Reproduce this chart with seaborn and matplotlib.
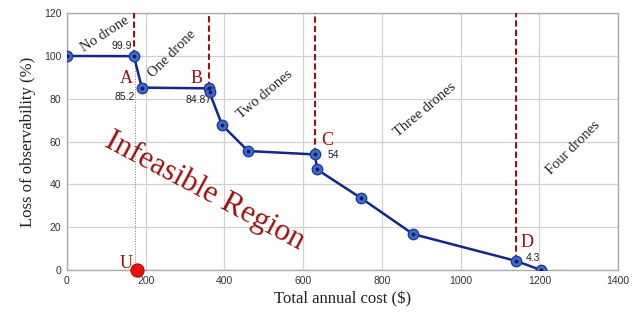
import numpy as np
import pandas as pd
import matplotlib
matplotlib.use("Agg")
import matplotlib.pyplot as plt
import seaborn as sns

# Data
cost = [0, 170, 190, 360, 362, 394, 460, 630, 635, 747, 879, 1140, 1204]
loss = [100, 99.9, 85.2, 84.87, 83.0, 67.7, 55.6, 54, 47, 33.6, 16.8, 4.3, 0]
boundaries = [170, 360, 630, 1140]
boundary_loss = [99.9, 84.87, 54, 4.3]
point_labels = ["A", "B", "C", "D"]
value_labels = ["99.9", "85.2", "84.87", "54", "4.3"]
value_x = [170, 190, 360, 630, 1140]
value_y = [99.9, 85.2, 84.87, 54, 4.3]
region_names = ["No drone", "One drone", "Two drones", "Three drones", "Four drones"]
u_cost = [178]
u_loss = [0]

sns.set_style("whitegrid")
plt.rcParams['font.family'] = ['Liberation Sans', 'DejaVu Sans']

fig = plt.figure(figsize=(6.44, 3.2), dpi=100)
ax = fig.add_axes([0.104, 0.156, 0.856, 0.803])

df = pd.DataFrame({"cost": cost, "loss": loss})
sns.lineplot(data=df, x="cost", y="loss", sort=False, ax=ax, color="#14268a",
             linewidth=1.8, marker="o", markersize=7.5,
             markerfacecolor="#3d6ccc", markeredgecolor="#1f3c9a", markeredgewidth=1.0, zorder=4)
ax.scatter(cost, loss, s=3, color="#0a1a60", zorder=5)

darkred = "#9b1010"
for bx, by in zip(boundaries, boundary_loss):
    ax.plot([bx, bx], [by, 120], linestyle=(0, (3, 1.5)), color=darkred, linewidth=1.5, zorder=3)

# dotted line from U to A
ax.plot([173, 173], [0, 99.9], linestyle=":", color="#777777", linewidth=0.7, zorder=2)

sns.scatterplot(x=u_cost, y=u_loss, ax=ax, color="#e8120c", s=90, edgecolor="#c00000", zorder=6, clip_on=False)

serif = ['Liberation Serif', 'DejaVu Serif']
# point letters
letter_pos = [(150, 89.5), (330, 89.5), (660, 60.5), (1168, 13)]
for (lx, ly), t in zip(letter_pos, point_labels):
    ax.text(lx, ly, t, color=darkred, family=serif, fontsize=13, ha="center", va="center")
ax.text(150, 3, "U", color=darkred, family=serif, fontsize=13, ha="center", va="center")

# value labels
val_off = [(-30, 4.8), (-43, -4.2), (-26, -5.5), (46, -0.3), (43, 1.5)]
for (dx, dy), vx, vy, t in zip(val_off, value_x, value_y, value_labels):
    ax.text(vx + dx, vy + dy, t, fontsize=7.5, color="#222222", ha="center", va="center")

# region labels
region_pos = [(96, 110), (268, 101), (503, 82), (910, 75), (1285, 57)]
region_rot = [33, 45, 40, 40, 45]
for (rx, ry), r, t in zip(region_pos, region_rot, region_names):
    ax.text(rx, ry, t, rotation=r, family=serif, fontsize=10.5, color="#222222",
            ha="center", va="center", rotation_mode="anchor")

ax.text(350, 37, "Infeasible Region", rotation=-28, family=serif, fontsize=22.5,
        color=darkred, ha="center", va="center", rotation_mode="anchor")

ax.set_xlim(0, 1400)
ax.set_ylim(0, 120)
ax.set_xticks(np.arange(0, 1401, 200))
ax.set_yticks(np.arange(0, 121, 20))
ax.tick_params(axis="both", labelsize=7.5, colors="#333333", length=0, pad=4)
ax.grid(True, color="#d0d0d0", linewidth=0.9)
for s in ax.spines.values():
    s.set_color("#aaaaaa")
    s.set_linewidth(1.0)
ax.set_xlabel("Total annual cost ($)", family=serif, fontsize=12, color="#222222", labelpad=4)
ax.set_ylabel("Loss of observability (%)", family=serif, fontsize=12, color="#222222", labelpad=6)

fig.savefig("out.png", dpi=100)
